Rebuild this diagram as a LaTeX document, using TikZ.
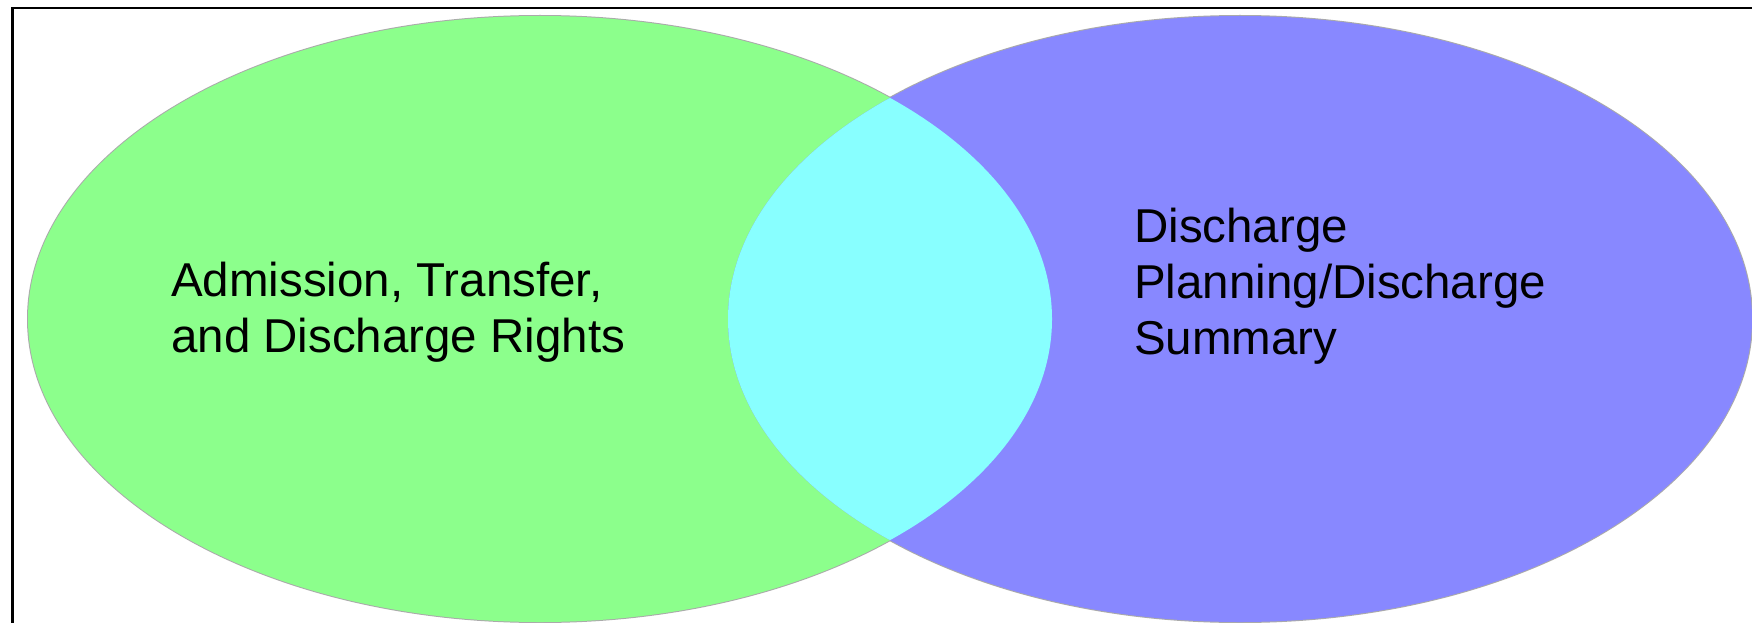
\documentclass[tikz,border=0pt]{standalone}
\usepackage{fontspec}
\setmainfont{Liberation Sans}
\definecolor{vgreen}{RGB}{140,255,140}
\definecolor{vblue}{RGB}{136,136,255}
\definecolor{vcyan}{RGB}{136,255,255}
\definecolor{vedge}{RGB}{170,170,170}
\tikzset{
  label text/.style={anchor=base west, inner sep=0pt, align=left,
    font=\fontsize{47.5}{56}\selectfont, text=black},
}
\begin{document}
\begin{tikzpicture}[x=1pt,y=-1pt]
\useasboundingbox (0,0) rectangle (1752,623);
\fill[white] (0,0) rectangle (1752,623);
% outlines first (only outer halves remain visible)
\draw[vedge, line width=2pt] (540,319) ellipse [x radius=512, y radius=303];
\draw[vedge, line width=2pt] (1240,319) ellipse [x radius=512, y radius=303];
% fills
\fill[vgreen] (540,319) ellipse [x radius=512, y radius=303];
\fill[vblue] (1240,319) ellipse [x radius=512, y radius=303];
\begin{scope}
  \clip (540,319) ellipse [x radius=512, y radius=303];
  \fill[vcyan] (1240,319) ellipse [x radius=512, y radius=303];
\end{scope}
% frame (top and left edges)
\draw[black, line width=2.5pt] (1752,8) -- (12.5,8) -- (12.5,623);
% texts (base anchor = baseline of the last line)
\node[label text] (left) at (171,352) {Admission, Transfer,\\and Discharge Rights};
\node[label text] (right) at (1134,354) {Discharge\\Planning/Discharge\\Summary};
\end{tikzpicture}
\end{document}
